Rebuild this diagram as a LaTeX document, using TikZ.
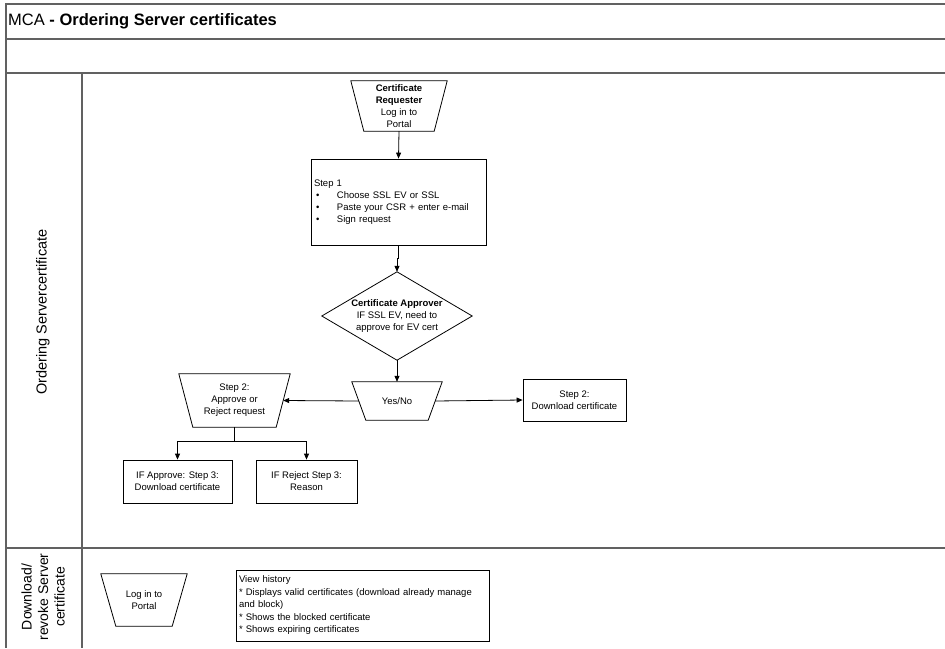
\documentclass[tikz,border=0pt]{standalone}
\usepackage{fontspec}
\setmainfont{Liberation Sans}
\usetikzlibrary{arrows.meta,calc}
\begin{document}
\begin{tikzpicture}[x=1pt,y=-1pt,
  frame/.style={draw=black!62, line width=1.4pt},
  shp/.style={draw=black, line width=0.8pt},
  box/.style={draw=black, line width=0.8pt, font=\fontsize{9.5}{12}\selectfont, align=center, inner sep=0pt},
  txt/.style={font=\fontsize{9.5}{12}\selectfont, align=center, inner sep=0pt},
  arr/.style={-{Triangle[length=6pt,width=5pt]}, line width=0.8pt},
  ln/.style={line width=0.8pt}
  ]
\useasboundingbox (0,0) rectangle (945,648);
% frame
\draw[frame] (945,4) -- (6,4) -- (6,648);
\draw[frame] (6,39) -- (945,39);
\draw[frame] (6,73) -- (945,73);
\draw[frame] (6,548) -- (945,548);
\draw[frame] (82,73) -- (82,648);
\node[anchor=west, inner sep=0pt, font=\fontsize{16.5}{19}\selectfont] (title) at (8,21) {MCA \textbf{- Ordering Server certificates}};
\node[rotate=90, inner sep=0pt, font=\fontsize{14.5}{16}\selectfont] (lane1) at (43,312) {Ordering Servercertificate};
\node[rotate=90, inner sep=0pt, align=center, font=\fontsize{14}{16.5}\selectfont] (lane2) at (43,597) {Download/\\revoke Server\\certificate};

% certificate requester
\node[txt, minimum width=96pt, minimum height=50pt] (req) at (399,106) {\textbf{Certificate}\\\textbf{Requester}\\Log in to\\Portal};
\draw[shp] (req.north west) -- (req.north east) -- ([xshift=-13pt]req.south east) -- ([xshift=13pt]req.south west) -- cycle;

% step 1
\node[box, minimum width=175pt, minimum height=86pt, text width=169pt, align=left, inner xsep=3pt] (step1) at (398.5,202)
 {Step 1\\
  \hspace*{2pt}\makebox[21pt][l]{•}Choose SSL EV or SSL\\
  \hspace*{2pt}\makebox[21pt][l]{•}Paste your CSR + enter e-mail\\
  \hspace*{2pt}\makebox[21pt][l]{•}Sign request};

% diamond
\node[txt, minimum width=150pt, minimum height=88pt] (dia) at (397,316) {\textbf{Certificate Approver}\\IF SSL EV, need to\\approve for EV cert};
\draw[shp] (dia.north) -- (dia.east) -- (dia.south) -- (dia.west) -- cycle;

% yes/no
\node[txt, minimum width=90pt, minimum height=38pt] (yesno) at (397,401) {Yes/No};
\draw[shp] (yesno.north west) -- (yesno.north east) -- ([xshift=-14pt]yesno.south east) -- ([xshift=14pt]yesno.south west) -- cycle;

% step 2 approve/reject
\node[txt, minimum width=111pt, minimum height=53pt] (step2a) at (234.5,400.5) {Step 2:\\Approve or\\Reject request};
\draw[shp] (step2a.north west) -- (step2a.north east) -- ([xshift=-14pt]step2a.south east) -- ([xshift=14pt]step2a.south west) -- cycle;

% step 2 download
\node[box, minimum width=103pt, minimum height=42pt] (step2b) at (574.5,400) {Step 2:\\Download certificate};

% step 3 boxes
\node[box, minimum width=109pt, minimum height=43pt] (approve) at (177.5,481.5) {IF Approve: Step 3:\\Download certificate};
\node[box, minimum width=101pt, minimum height=43pt] (reject) at (306.5,481.5) {IF Reject Step 3:\\Reason};

% lane 2
\node[txt, minimum width=86pt, minimum height=52pt] (login2) at (144,600) {Log in to\\Portal};
\draw[shp] (login2.north west) -- (login2.north east) -- ([xshift=-15pt]login2.south east) -- ([xshift=15pt]login2.south west) -- cycle;

\node[draw=black, line width=0.8pt, font=\fontsize{9.5}{12.5}\selectfont, align=left, inner xsep=3pt, inner ysep=0pt,
      minimum width=253pt, minimum height=71pt, text width=247pt] (history) at (362.5,605.5)
 {View history\\\relax
  {*} Displays valid certificates (download already manage\\\relax
  and block)\\\relax
  {*} Shows the blocked certificate\\\relax
  {*} Shows expiring certificates};

% connectors
\coordinate (yesnoL) at ([xshift=7pt]yesno.west);
\coordinate (yesnoR) at ([xshift=-7pt]yesno.east);
\coordinate (step2aR) at ([xshift=-7pt]step2a.east);
\draw[arr] (req.south) -- (step1.north);
\draw[arr] (step1.south) -- ++(0,13) -| (dia.north);
\draw[arr] (dia.south) -- (yesno.north);
\draw[arr] (yesnoL) -- (step2aR);
\draw[arr] (yesnoR) -- (step2b.west);
\draw[ln] (step2a.south) -- ++(0,14) coordinate (split);
\draw[arr] (split) -| (approve.north);
\draw[arr] (split) -| (reject.north);
\end{tikzpicture}
\end{document}
